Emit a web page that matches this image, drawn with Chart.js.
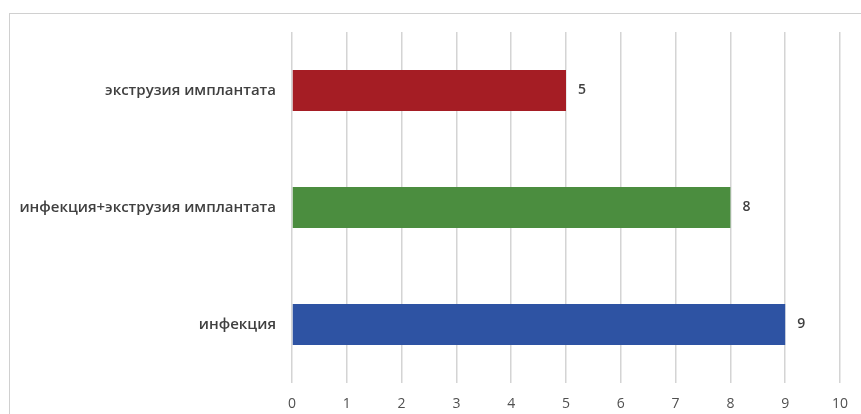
<!DOCTYPE html>
<html>
<head>
<meta charset="utf-8">
<script src="https://cdn.jsdelivr.net/npm/chart.js@4.4.0/dist/chart.umd.min.js"></script>
<style>
  html, body { margin: 0; padding: 0; background: #fff; overflow: hidden; }
  #wrap { position: relative; width: 861px; height: 414px; }
  #frame { position: absolute; left: 9px; top: 13px; width: 900px; height: 450px; border: 1px solid #d0d0d0; box-sizing: border-box; }
  canvas { position: absolute; left: 0; top: 0; }
</style>
</head>
<body>
<div id="wrap">
  <div id="frame"></div>
  <canvas id="chart" width="861" height="414"></canvas>
</div>
<script>
const categories = ['экструзия имплантата', 'инфекция+экструзия имплантата', 'инфекция'];
const values = [5, 8, 9];
const barColors = ['#a51d24', '#4b8d3f', '#2e53a3'];
const xMin = 0;
const xMax = 10;

// подписи значений справа от столбцов
const valueLabels = {
  id: 'valueLabels',
  afterDatasetsDraw(chart) {
    const ctx = chart.ctx;
    const meta = chart.getDatasetMeta(0);
    ctx.save();
    ctx.font = '600 14px "Open Sans", sans-serif';
    ctx.fillStyle = '#404040';
    ctx.textBaseline = 'middle';
    meta.data.forEach((bar, i) => {
      ctx.fillText(String(values[i]), bar.x + 12, bar.y);
    });
    ctx.restore();
  }
};

const ctx = document.getElementById('chart').getContext('2d');
new Chart(ctx, {
  type: 'bar',
  data: {
    labels: categories,
    datasets: [{
      data: values,
      backgroundColor: barColors,
      borderWidth: 0,
      barPercentage: 0.7,
      categoryPercentage: 0.5
    }]
  },
  options: {
    indexAxis: 'y',
    responsive: false,
    animation: false,
    layout: { padding: { left: 0, right: 21, top: 32, bottom: 0 } },
    plugins: { legend: { display: false }, tooltip: { enabled: false } },
    scales: {
      x: {
        min: xMin,
        max: xMax,
        ticks: { stepSize: 1, color: '#505050', font: { family: 'Open Sans', size: 14 }, padding: 13 },
        grid: { color: '#d4d4d4', lineWidth: 1.5, drawTicks: false },
        border: { display: false },
        afterFit: (scale) => { scale.height = 31; }
      },
      y: {
        ticks: { color: '#404040', font: { family: 'Open Sans', size: 15, weight: '600' }, padding: 8 },
        grid: { display: false },
        border: { display: false },
        afterFit: (scale) => { scale.width = 292; }
      }
    }
  },
  plugins: [valueLabels]
});
</script>
</body>
</html>
